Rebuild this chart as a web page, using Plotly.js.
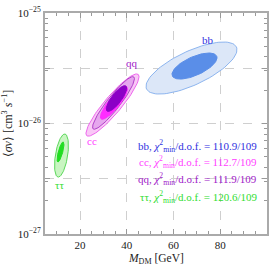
<!DOCTYPE html>
<html>
<head>
<meta charset="utf-8">
<script src="https://cdn.plot.ly/plotly-3.0.1.min.js"></script>
<style>html,body{margin:0;padding:0;background:#fff;}#plot{width:275px;height:265px;}</style>
</head>
<body>
<div id="plot"></div>
<script>
// Confidence-region ellipses:
// centre (GeV, log10 <sigma v>), semi-axis 1 and semi-axis 2 (GeV, decades)
const regionNames = ["cc 2σ", "qq 2σ", "cc 1σ", "qq 1σ", "bb 2σ", "bb 1σ", "ττ 2σ", "ττ 1σ"];
const centerX  = [33.88, 34.31, 34.52, 35.59, 67.69, 68.97, 12.06, 11.63];
const centerLogY = [-25.833, -25.814, -25.814, -25.774, -25.498, -25.480, -26.290, -26.258];
const axis1X = [11.00, 8.69, 5.52, 4.04, 19.23, 9.50, 1.49, 1.18];
const axis1Y = [0.2773, 0.2353, 0.1442, 0.1135, 0.190, 0.0894, 0.1947, 0.0907];
const axis2X = [-2.79, -2.19, -1.83, -1.71, -3.06, -1.62, -2.58, -0.91];
const axis2Y = [0.0494, 0.0362, 0.0313, 0.0272, 0.139, 0.0769, 0.0088, 0.0053];
const fillColors = ["#f9c8f6", "#e6a6ee", "#ff2cff", "#8c00c6", "#dce7f8", "#5a8ee8", "#c9f5c2", "#22dd22"];
const lineColors = ["#ee66ee", "#b040c8", "#ff2cff", "#8c00c6", "#8db5ef", "#5a8ee8", "#5ad85a", "#22dd22"];

const channelLabels = ["bb", "qq", "cc", "ττ"];
const labelX = [74.8, 42.2, 25.1, 11.0];
const labelLogY = [-25.244, -25.452, -26.158, -26.557];
const channelColors = ["#3030e0", "#a020c8", "#ff40ff", "#30dd30"];

const fitNames = ["bb", "cc", "qq", "ττ"];
const chi2 = ["110.9", "112.7", "111.9", "120.6"];
const dof = ["109", "109", "109", "109"];
const fitColors = ["#3030e0", "#ff40ff", "#a020c8", "#30dd30"];

const xTicks = [20, 40, 60, 80, 100];
const yTickVals = [1e-27, Math.pow(10, -26.5), 1e-26, Math.pow(10, -25.5), 1e-25];
const yTickText = ["10<sup>−27</sup>", "", "10<sup>−26</sup>", "", "10<sup>−25</sup>"];

const N = 90;
const traces = regionNames.map((nm, i) => {
  const xs = [], ys = [];
  for (let k = 0; k <= N; k++) {
    const t = 2 * Math.PI * k / N;
    xs.push(centerX[i] + axis1X[i] * Math.cos(t) + axis2X[i] * Math.sin(t));
    ys.push(Math.pow(10, centerLogY[i] + axis1Y[i] * Math.cos(t) + axis2Y[i] * Math.sin(t)));
  }
  return {x: xs, y: ys, name: nm, type: "scatter", mode: "lines", fill: "toself",
          fillcolor: fillColors[i], line: {color: lineColors[i], width: 1}, hoverinfo: "skip"};
});

const F = "'Liberation Serif', 'Times New Roman', serif";
const annotations = [];
channelLabels.forEach((t, i) => annotations.push({
  x: labelX[i], y: labelLogY[i], xref: "x", yref: "y", text: t, showarrow: false,
  font: {family: F, size: 11, color: channelColors[i]}
}));
const legY = [0.398, 0.326, 0.249, 0.167];
fitNames.forEach((t, i) => annotations.push({
  x: 0.966, y: legY[i], xref: "paper", yref: "paper", xanchor: "right", yanchor: "middle",
  text: t + ", <i>χ</i><sup>2</sup><sub>min</sub>/d.o.f. = " + chi2[i] + "/" + dof[i],
  showarrow: false, font: {family: F, size: 11, color: fitColors[i]}
}));
annotations.push({
  x: 0.5, y: -0.111, xref: "paper", yref: "paper", xanchor: "center", yanchor: "middle",
  text: "<i>M</i><sub>DM</sub> [GeV]", showarrow: false, font: {family: F, size: 11.5, color: "#222"}
});

const layout = {
  width: 275, height: 265,
  margin: {l: 45, r: 8, t: 13, b: 31},
  paper_bgcolor: "#fff", plot_bgcolor: "#fff",
  showlegend: false,
  font: {family: F, size: 11, color: "#222"},
  xaxis: {
    range: [5, 100], tickmode: "array", tickvals: xTicks, ticktext: xTicks.map(String),
    showgrid: true, gridcolor: "#cfcfcf", griddash: "dash", gridwidth: 1,
    ticks: "inside", ticklen: 5, tickcolor: "#999", mirror: "allticks",
    showline: true, linecolor: "#aaa", linewidth: 2, zeroline: false,
    minor: {dtick: 5, ticks: "inside", ticklen: 3, tickcolor: "#999", showgrid: false},
    tickfont: {family: F, size: 11, color: "#222"}
  },
  yaxis: {
    type: "log", range: [-27, -25], tickmode: "array", tickvals: yTickVals, ticktext: yTickText,
    showgrid: true, gridcolor: "#cfcfcf", griddash: "dash", gridwidth: 1,
    ticks: "inside", ticklen: 5, tickcolor: "#999", mirror: "allticks",
    showline: true, linecolor: "#aaa", linewidth: 2, zeroline: false,
    minor: {dtick: "D1", ticks: "inside", ticklen: 3, tickcolor: "#999", showgrid: false},
    title: {text: "⟨<i>σv</i>⟩ [cm<sup>3</sup> <i>s</i><sup>−1</sup>]", font: {family: F, size: 12, color: "#222"}, standoff: 6},
    tickfont: {family: F, size: 11, color: "#222"}
  },
  annotations: annotations
};

Plotly.newPlot("plot", traces, layout, {staticPlot: true, displayModeBar: false});
</script>
</body>
</html>
